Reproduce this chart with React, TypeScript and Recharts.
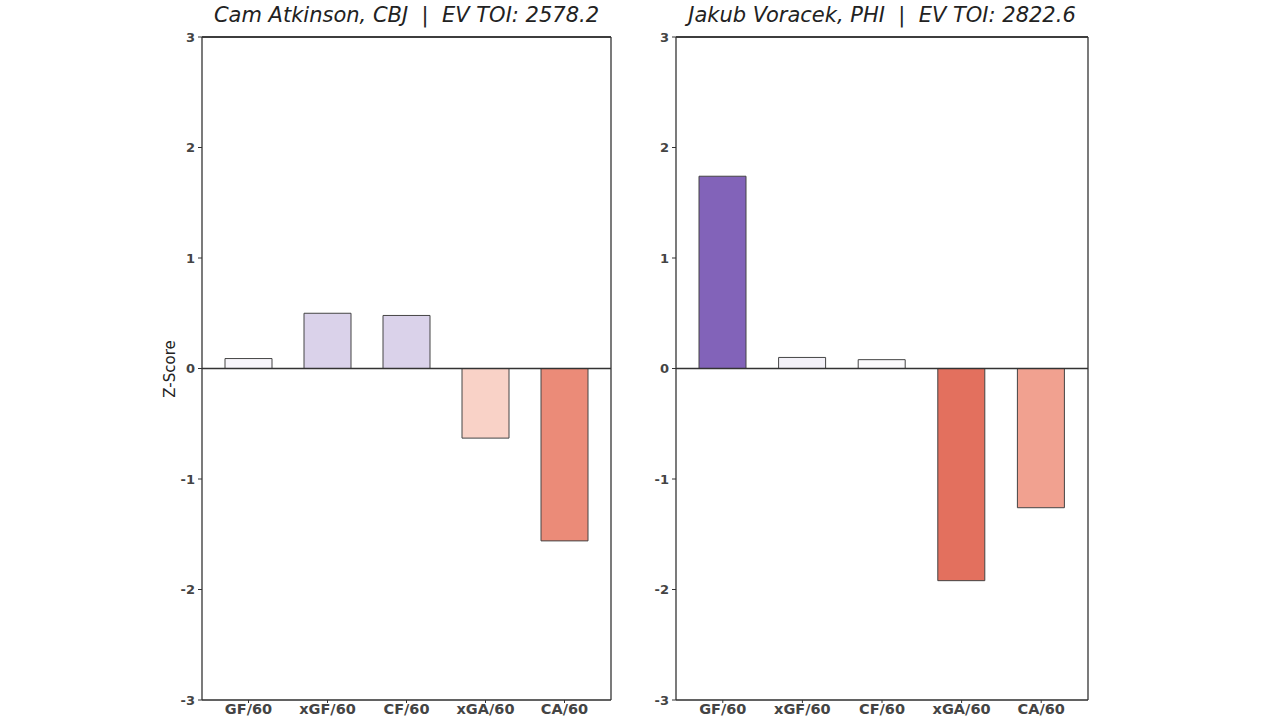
import React from 'react';
import { BarChart, Bar, XAxis, YAxis, CartesianGrid, ReferenceLine, Cell } from 'recharts';

const categories = ['GF/60', 'xGF/60', 'CF/60', 'xGA/60', 'CA/60'];
const yTicks = [-3, -2, -1, 0, 1, 2, 3];

const atkinsonTitle = 'Cam Atkinson, CBJ  |  EV TOI: 2578.2';
const atkinsonValues = [0.09, 0.5, 0.48, -0.63, -1.56];
const atkinsonColors = ['#f8f6fb', '#dad2ea', '#dad2ea', '#f9d2c7', '#eb8b78'];

const voracekTitle = 'Jakub Voracek, PHI  |  EV TOI: 2822.6';
const voracekValues = [1.74, 0.1, 0.08, -1.92, -1.26];
const voracekColors = ['#8263b9', '#f3f1f8', '#fbfafc', '#e3705e', '#f1a190'];

const FONT = 'DejaVu Sans, sans-serif';
const TEXT = '#444';
const FRAME = '#333';

function Panel({ left, plotWidth, title, values, colors, showLabel }: any) {
  const data = categories.map((c, i) => ({ cat: c, v: values[i] }));
  const W = 480;
  const yw = 52;
  return (
    <div style={{ position: 'absolute', left, top: 0, width: W, height: 720 }}>
      <div
        style={{
          position: 'absolute',
          left: yw - 20,
          width: plotWidth + 40,
          top: 3,
          textAlign: 'center',
          fontFamily: FONT,
          fontStyle: 'italic',
          fontSize: 21,
          color: '#222',
          whiteSpace: 'pre',
        }}
      >
        {title}
      </div>
      {showLabel && (
        <div
          style={{
            position: 'absolute',
            left: 20 - 40,
            top: 360,
            width: 80,
            textAlign: 'center',
            transform: 'rotate(-90deg)',
            fontFamily: FONT,
            fontSize: 15,
            color: '#222',
          }}
        >
          Z-Score
        </div>
      )}
      <BarChart
        width={W}
        height={720}
        data={data}
        margin={{ top: 36, right: W - yw - plotWidth - 1, bottom: 0, left: 0 }}
        barSize={47}
      >
        <CartesianGrid vertical={false} stroke="#dcdcdc" />
        <XAxis
          dataKey="cat"
          xAxisId="b"
          padding={{ left: 7, right: 7 }}
          height={20}
          tickSize={3}
          tickMargin={1}
          axisLine={{ stroke: FRAME, strokeWidth: 1.3 }}
          tickLine={{ stroke: FRAME }}
          tick={{ fill: TEXT, fontFamily: FONT, fontWeight: 'bold', fontSize: 14.5 }}
          interval={0}
        />
        <XAxis
          dataKey="cat"
          xAxisId="t"
          orientation="top"
          height={1}
          tick={false}
          tickLine={false}
          axisLine={{ stroke: FRAME, strokeWidth: 1.3 }}
        />
        <YAxis
          yAxisId="l"
          domain={[-3, 3]}
          ticks={yTicks}
          width={yw}
          tickSize={4}
          tickMargin={3}
          axisLine={{ stroke: FRAME, strokeWidth: 1.3 }}
          tickLine={{ stroke: FRAME }}
          tick={{ fill: TEXT, fontFamily: FONT, fontWeight: 'bold', fontSize: 13 }}
          allowDataOverflow
        />
        <YAxis
          yAxisId="r"
          orientation="right"
          domain={[-3, 3]}
          width={1}
          tick={false}
          tickLine={false}
          axisLine={{ stroke: FRAME, strokeWidth: 1.3 }}
        />
        <Bar dataKey="v" xAxisId="b" yAxisId="l" isAnimationActive={false} stroke="#444" strokeWidth={1}>
          {data.map((d, i) => (
            <Cell key={d.cat} fill={colors[i]} />
          ))}
        </Bar>
        <ReferenceLine y={0} xAxisId="b" yAxisId="l" stroke={FRAME} strokeWidth={1.3} />
        <ReferenceLine y={3} xAxisId="b" yAxisId="l" stroke={FRAME} strokeWidth={1.3} />
      </BarChart>
    </div>
  );
}

export default function App() {
  return (
    <div style={{ position: 'absolute', left: 0, top: 0, width: 1280, height: 720, background: '#fff', overflow: 'hidden' }}>
      <Panel left={150} plotWidth={409} title={atkinsonTitle} values={atkinsonValues} colors={atkinsonColors} showLabel />
      <Panel left={624} plotWidth={412} title={voracekTitle} values={voracekValues} colors={voracekColors} showLabel={false} />
    </div>
  );
}
